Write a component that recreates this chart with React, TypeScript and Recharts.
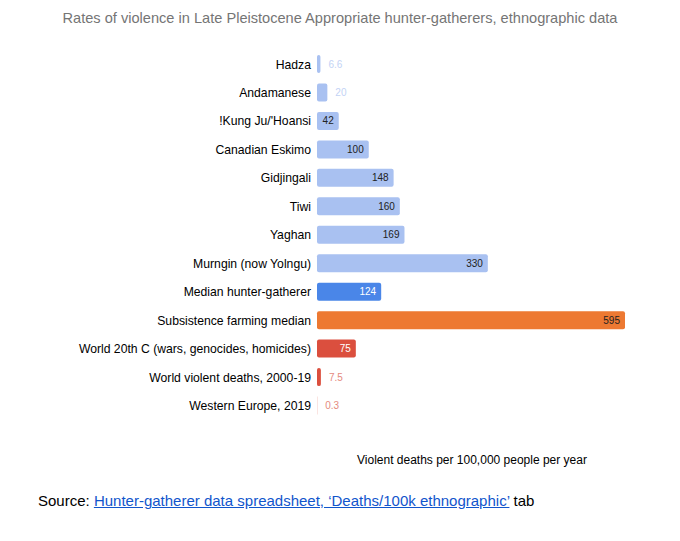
import React from 'react';
import { BarChart, Bar, XAxis, YAxis, Cell, LabelList } from 'recharts';

const categories = [
  'Hadza',
  'Andamanese',
  "!Kung Ju/'Hoansi",
  'Canadian Eskimo',
  'Gidjingali',
  'Tiwi',
  'Yaghan',
  'Murngin (now Yolngu)',
  'Median hunter-gatherer',
  'Subsistence farming median',
  'World 20th C (wars, genocides, homicides)',
  'World violent deaths, 2000-19',
  'Western Europe, 2019',
];
const rates = [6.6, 20, 42, 100, 148, 160, 169, 330, 124, 595, 75, 7.5, 0.3];
const rateLabels = ['6.6', '20', '42', '100', '148', '160', '169', '330', '124', '595', '75', '7.5', '0.3'];

// bar colour, label colour inside the bar, label colour when outside
const barColors = [
  '#a9c1f1', '#a9c1f1', '#a9c1f1', '#a9c1f1', '#a9c1f1', '#a9c1f1', '#a9c1f1', '#a9c1f1',
  '#4a86e8', '#ed7932', '#db4f3e', '#db4f3e', '#db4f3e',
];
const insideText = [
  '#222', '#222', '#222', '#222', '#222', '#222', '#222', '#222',
  '#ffffff', '#222', '#ffffff', '#ffffff', '#ffffff',
];
const outsideText = [
  '#c3d3f5', '#c3d3f5', '#c3d3f5', '#c3d3f5', '#c3d3f5', '#c3d3f5', '#c3d3f5', '#c3d3f5',
  '#8fb0ee', '#f0a070', '#e58a7e', '#e58a7e', '#e58a7e',
];

const data = categories.map((name, i) => ({ name, value: rates[i], label: rateLabels[i] }));

const FONT = 'Arial, "Liberation Sans", sans-serif';

function ValueLabel(props: any) {
  const { x, y, width, height, index } = props;
  const text = data[index].label;
  const inside = width > 20;
  return (
    <text
      x={inside ? x + width - 5 : x + width + 8}
      y={y + height / 2}
      dy="0.35em"
      textAnchor={inside ? 'end' : 'start'}
      fontSize={10}
      fontFamily={FONT}
      fill={inside ? insideText[index] : outsideText[index]}
    >
      {text}
    </text>
  );
}

export default function App() {
  return (
    <div style={{ position: 'absolute', left: 0, top: 0, width: 680, height: 541, background: '#fff', fontFamily: FONT }}>
      <div style={{ position: 'absolute', top: 10, left: 0, width: 680, textAlign: 'center', fontSize: 14.6, color: '#757575' }}>
        Rates of violence in Late Pleistocene Appropriate hunter-gatherers, ethnographic data
      </div>
      <div style={{ position: 'absolute', top: 0, left: 0 }}>
        <BarChart
          width={680}
          height={430}
          data={data}
          layout="vertical"
          margin={{ top: 50, right: 55, bottom: 10, left: 0 }}
        >
          <XAxis type="number" domain={[0, 595]} hide />
          <YAxis
            type="category"
            dataKey="name"
            width={317}
            axisLine={false}
            tickLine={false}
            tickSize={6}
            tickMargin={0}
            interval={0}
            tick={{ fontSize: 12.2, fill: '#000', fontFamily: FONT }}
          />
          <Bar dataKey="value" barSize={18} radius={2} isAnimationActive={false}>
            {data.map((d, i) => (
              <Cell key={d.name} fill={barColors[i]} />
            ))}
            <LabelList dataKey="value" content={ValueLabel} />
          </Bar>
        </BarChart>
      </div>
      <div style={{ position: 'absolute', top: 453, left: 357, fontSize: 12, color: '#000' }}>
        Violent deaths per 100,000 people per year
      </div>
      <div style={{ position: 'absolute', top: 492, left: 38, fontSize: 15, color: '#000' }}>
        Source:{' '}
        <a href="#" style={{ color: '#1155cc', textDecoration: 'underline' }}>
          Hunter-gatherer data spreadsheet, ‘Deaths/100k ethnographic’
        </a>{' '}
        tab
      </div>
    </div>
  );
}
